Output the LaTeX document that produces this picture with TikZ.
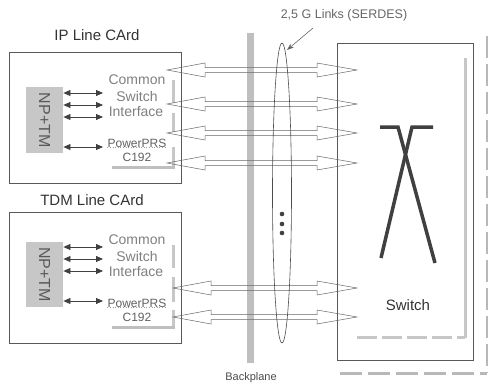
\documentclass[tikz,border=0pt]{standalone}
\usepackage{fontspec}
\setmainfont{Liberation Sans}
\usetikzlibrary{arrows.meta}
\newcommand\hollowarrow[3]{%
  \draw[harrow] (#1,#3) -- ({#1+38},{#3-7}) -- ({#1+38},{#3-2.5}) -- ({#2-40},{#3-2.5}) -- ({#2-40},{#3-7}) -- (#2,#3)
   -- ({#2-40},{#3+7}) -- ({#2-40},{#3+2.5}) -- ({#1+38},{#3+2.5}) -- ({#1+38},{#3+7}) -- cycle;}
\begin{document}
\begin{tikzpicture}[x=1pt,y=-1pt,
  box/.style={draw=black!65,line width=0.7pt,inner sep=0pt,anchor=north west},
  nptm/.style={fill=black!22,draw=none,inner sep=0pt,anchor=north west},
  nptext/.style={rotate=-90,text=black!65,font=\fontsize{16}{16}\selectfont},
  title/.style={text=black!80,font=\fontsize{15}{15}\selectfont},
  csi/.style={text=black!50,font=\fontsize{14}{14}\selectfont,inner sep=0pt},
  prs/.style={text=black!62,font=\fontsize{12}{12}\selectfont,inner sep=0pt},
  smallarr/.style={draw=black!75,line width=0.8pt,{Triangle[length=7pt,width=6pt]}-{Triangle[length=7pt,width=6pt]}},
  harrow/.style={draw=black!60,line width=0.5pt},
  shade/.style={draw=black!28,line width=3pt},
  xbar/.style={draw=black!75,line width=3.5pt}]
\useasboundingbox (0,0) rectangle (488,388);
\fill[white] (0,0) rectangle (488,388);

% backplane
\fill[black!25] (247,33) rectangle (254,363);
\node[font=\fontsize{11}{11}\selectfont,text=black!70] (bp) at (251,378) {Backplane};

% outer shadow of switch
\draw[shade,dash pattern=on 22pt off 6pt] (487,36) -- (487,373);
\draw[shade,dash pattern=on 22pt off 6pt] (340,373) -- (487,373);

% switch box
\node[box,minimum width=136,minimum height=317] (sw) at (337,43) {};
\draw[shade,draw=black!22] (465,58) -- (465,338);
\draw[shade,draw=black!22,dash pattern=on 20pt off 5pt] (357,337) -- (465,337);
\draw[xbar] (380,127) -- (398,127) -- (435,263);
\draw[xbar] (433,127) -- (412,127) -- (381,258);
\node[font=\fontsize{15}{15}\selectfont,text=black!80] (swl) at (408,305) {Switch};

% IP line card
\node[title] (iptitle) at (97,35) {IP Line CArd};
\node[box,minimum width=172,minimum height=131] (ipcard) at (9,52) {};
\draw[shade,draw=black!22] (173,80) -- (173,103) (173,113) -- (173,132) (173,147) -- (173,167);
\draw[shade,draw=black!25] (112,167) -- (175,167);
\node[nptm,minimum width=37,minimum height=66] (ipnp) at (26,87) {};
\node[nptext] at (ipnp.center) {NP+TM};
\node[csi] (ipc1) at (137,80) {Common};
\node[csi] (ipc2) at (137,96) {Switch};
\node[csi] (ipc3) at (136,112) {Interface};
\node[prs] (ipp1) at (137,143) {PowerPRS};
\node[prs] (ipp2) at (137,157) {C192};
\draw[black!40,dotted,line width=0.6pt] (ipp1.south west) -- (ipp1.south east);
\draw[smallarr] (ipnp.east |- 0,93) -- (103,93);
\draw[smallarr] (ipnp.east |- 0,105) -- (103,105);
\draw[smallarr] (ipnp.east |- 0,117) -- (103,117);
\draw[smallarr] (ipnp.east |- 0,147) -- (103,147);

% TDM line card
\node[title] (tdmtitle) at (92,200) {TDM Line CArd};
\node[box,minimum width=172,minimum height=131] (tdmcard) at (9,212) {};
\draw[shade,draw=black!22] (173,245) -- (173,268) (173,277) -- (173,302) (173,310) -- (173,328);
\draw[shade,draw=black!25] (112,327) -- (175,327);
\node[nptm,minimum width=37,minimum height=65] (tdmnp) at (26,242) {};
\node[nptext] at (tdmnp.center) {NP+TM};
\node[csi] (tc1) at (137,240) {Common};
\node[csi] (tc2) at (137,256) {Switch};
\node[csi] (tc3) at (136,272) {Interface};
\node[prs] (tp1) at (137,303) {PowerPRS};
\node[prs] (tp2) at (137,317) {C192};
\draw[black!40,dotted,line width=0.6pt] (tp1.south west) -- (tp1.south east);
\draw[smallarr] (tdmnp.east |- 0,247) -- (103,247);
\draw[smallarr] (tdmnp.east |- 0,259) -- (103,259);
\draw[smallarr] (tdmnp.east |- 0,271) -- (103,271);
\draw[smallarr] (tdmnp.east |- 0,301) -- (103,301);

% hollow link arrows
\hollowarrow{167}{357}{70}
\hollowarrow{167}{357}{104}
\hollowarrow{167}{357}{133}
\hollowarrow{167}{357}{163}
\hollowarrow{173}{357}{288}
\hollowarrow{173}{357}{317}

% SERDES bundle
\draw[black!70,line width=0.6pt] (282,193) ellipse (9.5 and 150);
\foreach \yy in {214,224,233} \fill[black!75] (282,\yy) circle (2.3);
\node[font=\fontsize{12.5}{12.5}\selectfont,text=black!60] (serdes) at (344,15) {2,5 G Links (SERDES)};
\coordinate (bundletop) at (287,50);
\draw[black!60,line width=0.6pt,-{Stealth[length=7pt,width=5pt]}] (313,28) -- (bundletop);
\end{tikzpicture}
\end{document}
